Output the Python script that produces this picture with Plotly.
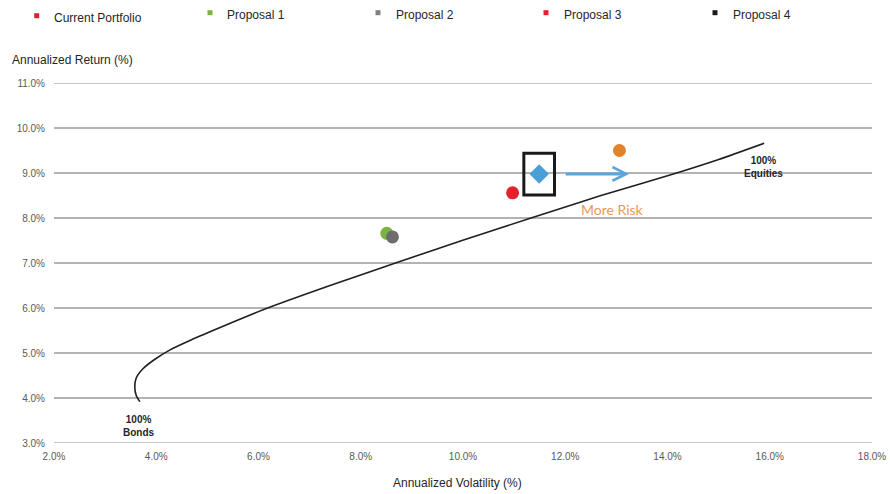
import plotly.graph_objects as go

# Efficient frontier (annualized volatility %, annualized return %)
frontier_vol = [3.68, 3.61, 3.58, 3.61, 3.74, 3.96, 4.27, 4.68, 5.32, 6.18, 7.40, 8.68, 9.98, 11.33, 12.70, 14.18, 15.00, 15.89]
frontier_ret = [3.92, 4.05, 4.25, 4.45, 4.65, 4.85, 5.07, 5.29, 5.60, 6.00, 6.50, 7.00, 7.50, 8.00, 8.50, 9.00, 9.30, 9.66]

# Portfolio points
point_vol = [8.51, 8.62, 10.97, 13.06]
point_ret = [7.66, 7.58, 8.56, 9.50]
point_colors = ["#7cb342", "#6d6d6d", "#e3202b", "#e2832b"]

selected_vol = [11.49]
selected_ret = [8.98]

legend_names = ["Current Portfolio", "Proposal 1", "Proposal 2", "Proposal 3", "Proposal 4"]
legend_colors = ["#e3202b", "#7cb342", "#7f7f7f", "#e3202b", "#1a1a1a"]

x_ticks = [2, 4, 6, 8, 10, 12, 14, 16, 18]
y_ticks = [3, 4, 5, 6, 7, 8, 9, 10, 11]

# layout helpers (pixel geometry)
L, R, T, B = 54, 18, 83, 51
W, H = 890, 494
PW, PH = W - L - R, H - T - B

def px(x):
    return (x - L) / PW

def py(y):
    return (H - B - y) / PH

fig = go.Figure()

fig.add_trace(go.Scatter(
    x=frontier_vol, y=frontier_ret, mode="lines",
    line=dict(color="#1f1f1f", width=1.6, shape="spline", smoothing=0.6),
    showlegend=False, hoverinfo="skip"))

fig.add_trace(go.Scatter(
    x=point_vol, y=point_ret, mode="markers",
    marker=dict(size=13, color=point_colors, line=dict(width=0)),
    showlegend=False))

fig.add_trace(go.Scatter(
    x=selected_vol, y=selected_ret, mode="markers",
    marker=dict(size=15, symbol="diamond", color="#4b9fd6", line=dict(width=0)),
    showlegend=False))

# gridlines at the edges of the value range (plotly hides edge gridlines)
for yv in (y_ticks[0], y_ticks[-1]):
    fig.add_shape(type="line", xref="paper", yref="y", x0=0, x1=1, y0=yv, y1=yv,
                  line=dict(color="#b3b3b3", width=1.5), layer="below")

# highlight box around selected portfolio
fig.add_shape(type="rect", xref="x", yref="y", x0=11.19, x1=11.79, y0=8.51, y1=9.44,
              line=dict(color="#1a1a1a", width=3))

# More risk arrow
fig.add_annotation(x=13.25, y=8.98, ax=11.98, ay=8.98, xref="x", yref="y", axref="x", ayref="y",
                   text="", showarrow=True, arrowhead=5, arrowsize=0.9, arrowwidth=3,
                   arrowcolor="#5aa5da")
fig.add_annotation(x=12.93, y=8.20, xref="x", yref="y", text="More Risk", showarrow=False,
                   font=dict(family="Lato", size=14, color="#e89a55"))

fig.add_annotation(x=3.67, y=3.38, xref="x", yref="y", text="<b>100%<br>Bonds</b>", showarrow=False,
                   font=dict(family="Liberation Sans", size=10, color="#262626"))
fig.add_annotation(x=15.87, y=9.13, xref="x", yref="y", text="<b>100%<br>Equities</b>", showarrow=False,
                   font=dict(family="Liberation Sans", size=10, color="#262626"))

# Axis titles
fig.add_annotation(x=px(10), y=py(60), xref="paper", yref="paper", text="Annualized Return (%)",
                   showarrow=False, xanchor="left", yanchor="middle",
                   font=dict(family="Liberation Sans", size=12, color="#262626"))
fig.add_annotation(x=px(457), y=py(483), xref="paper", yref="paper", text="Annualized Volatility (%)",
                   showarrow=False, xanchor="center", yanchor="middle",
                   font=dict(family="Liberation Sans", size=12, color="#262626"))

# Legend (manual)
leg_sq_x = [36.7, 210, 378, 546, 715]
leg_sq_y = [15.7, 12.7, 12.7, 12.7, 12.7]
leg_tx_x = [52, 225, 394, 562, 731]
leg_tx_y = [17.5, 15, 15, 15, 15]
for name, col, sx, sy, tx, ty in zip(legend_names, legend_colors, leg_sq_x, leg_sq_y, leg_tx_x, leg_tx_y):
    fig.add_shape(type="rect", xref="paper", yref="paper",
                  x0=px(sx - 2.5), x1=px(sx + 2.5), y0=py(sy + 2.5), y1=py(sy - 2.5),
                  fillcolor=col, line=dict(width=0))
    fig.add_annotation(x=px(tx), y=py(ty), xref="paper", yref="paper", text=name, showarrow=False,
                       xanchor="left", yanchor="middle",
                       font=dict(family="Liberation Sans", size=12, color="#262626"))

fig.update_layout(
    width=W, height=H,
    margin=dict(l=L, r=R, t=T, b=B, autoexpand=False),
    plot_bgcolor="white", paper_bgcolor="white",
    showlegend=False,
    font=dict(family="Liberation Sans", color="#595959", size=10),
    xaxis=dict(range=[2, 18], tickvals=x_ticks, ticktext=[f"{v:.1f}%" for v in x_ticks],
               showgrid=False, zeroline=False, showline=False, ticks="", automargin=False,
               ticklabelstandoff=6,
               tickfont=dict(size=10, color="#595959")),
    yaxis=dict(range=[3, 11], tickvals=y_ticks, ticktext=[f"{v:.1f}%" for v in y_ticks],
               showgrid=True, gridcolor="#b3b3b3", gridwidth=1.5, zeroline=False, showline=False,
               ticks="", ticklabelstandoff=8, automargin=False,
               tickfont=dict(size=10, color="#595959")),
)

fig.write_html("out.html")
